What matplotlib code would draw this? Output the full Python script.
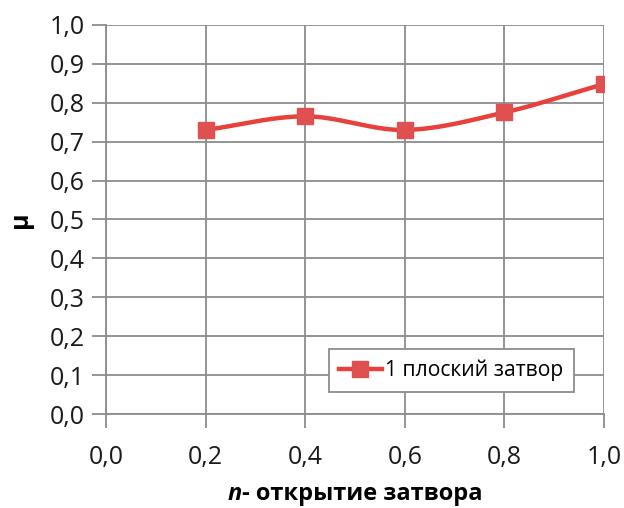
import numpy as np
import matplotlib
matplotlib.use("Agg")
import matplotlib.pyplot as plt
from matplotlib.ticker import FixedLocator, FuncFormatter

x_vals = [0.2, 0.4, 0.6, 0.8, 1.0]
mu_vals = [0.73, 0.765, 0.73, 0.775, 0.848]
series_label = "1 плоский затвор"
x_label_italic = "n"
x_label_rest = "- открытие затвора"
y_label = "μ"

plt.rcParams['font.family'] = ['Open Sans', 'DejaVu Sans']

def smooth(xs, ys, n=40, t=0.5):
    xs = np.asarray(xs, float); ys = np.asarray(ys, float)
    px = np.concatenate([[2*xs[0]-xs[1]], xs, [2*xs[-1]-xs[-2]]])
    py = np.concatenate([[2*ys[0]-ys[1]], ys, [2*ys[-1]-ys[-2]]])
    ox, oy = [], []
    for i in range(1, len(px)-2):
        p0 = np.array([px[i-1], py[i-1]]); p1 = np.array([px[i], py[i]])
        p2 = np.array([px[i+1], py[i+1]]); p3 = np.array([px[i+2], py[i+2]])
        c1 = p1 + (p2 - p0) * t / 3
        c2 = p2 - (p3 - p1) * t / 3
        s = np.linspace(0, 1, n)[:, None]
        b = (1-s)**3*p1 + 3*(1-s)**2*s*c1 + 3*(1-s)*s**2*c2 + s**3*p2
        ox.extend(b[:, 0]); oy.extend(b[:, 1])
    return np.array(ox), np.array(oy)

fig = plt.figure(figsize=(6.24, 5.08), dpi=100)
ax = fig.add_axes([0.170, 0.185, 0.798, 0.766])

grid_c = '#8c8c8c'
ax.set_xlim(0, 1.0)
ax.set_ylim(0, 1.0)
ax.xaxis.set_major_locator(FixedLocator(np.arange(0, 1.01, 0.2)))
ax.yaxis.set_major_locator(FixedLocator(np.arange(0, 1.01, 0.1)))
fmt = FuncFormatter(lambda v, p: f"{v:.1f}".replace('.', ','))
ax.xaxis.set_major_formatter(fmt)
ax.yaxis.set_major_formatter(fmt)
ax.grid(True, color=grid_c, linewidth=1.3)
ax.set_axisbelow(True)
for s in ['top', 'right']:
    ax.spines[s].set_visible(False)
for s in ['left', 'bottom']:
    ax.spines[s].set_color(grid_c)
    ax.spines[s].set_linewidth(1.3)
ax.tick_params(axis='both', direction='out', length=10, width=1.3, color=grid_c,
               labelsize=18, labelcolor='#1a1a1a', pad=5)
ax.tick_params(axis='x', pad=12)

sx, sy = smooth(x_vals, mu_vals)
ax.plot(sx, sy, color='#e8403a', linewidth=3.2, solid_capstyle='round', zorder=3)
ax.plot(x_vals, mu_vals, linestyle='none', marker='s', markersize=11,
        color='#e05050', zorder=4)
ax.plot([], [], color='#e8403a', linewidth=3.2, marker='s', markersize=11,
        markerfacecolor='#e05050', markeredgecolor='#e05050', label=series_label)
leg = ax.legend(loc='lower right', bbox_to_anchor=(0.96, 0.03), fontsize=15.2,
                frameon=True, fancybox=False, edgecolor=grid_c, framealpha=1,
                handlelength=2.0, handletextpad=0.15, borderpad=0.5)
leg.get_frame().set_linewidth(1.3)

ax.set_ylabel(y_label, fontsize=18, fontweight='bold', labelpad=12)

# composed x label: italic bold "n" + bold rest
t1 = fig.text(0.0, 0.016, x_label_italic, fontsize=17, fontweight='bold', style='italic')
t2 = fig.text(0.0, 0.016, x_label_rest, fontsize=17, fontweight='bold')
fig.canvas.draw()
r = fig.canvas.get_renderer()
w1 = t1.get_window_extent(r).width / fig.bbox.width
w2 = t2.get_window_extent(r).width / fig.bbox.width
cx = 0.170 + 0.798/2
x0 = cx - (w1 + w2)/2
t1.set_x(x0)
t2.set_x(x0 + w1)

fig.savefig('out.png', dpi=100)
